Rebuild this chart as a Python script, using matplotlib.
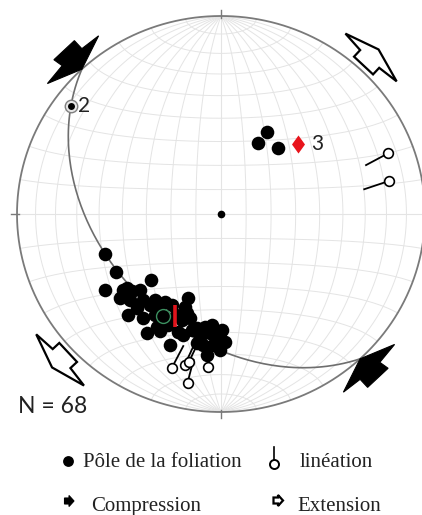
"""
Stéréogramme (canevas équiaire, hémisphère inférieur) : pôles de foliation,
linéations, cercle de la guirlande et axes de compression / extension.
"""

import numpy as np
import matplotlib.pyplot as plt
from matplotlib.patches import Polygon

# =========================================================
# DONNÉES
# =========================================================

# guirlande (plan : direction selon la règle de la main droite, pendage)
GIRDLE_STRIKE = 137.0
GIRDLE_DIP = 42.0

# pôles de la foliation, coordonnées dans le canevas (rayon = 1)
POLE_X = [-0.569, -0.515, -0.569, -0.343, -0.480, -0.436, -0.397, -0.495,
          -0.446, -0.461, -0.348, -0.275, -0.412, -0.382, -0.324, -0.454,
          -0.363, -0.314, -0.299, -0.250, -0.211, -0.160, -0.176, -0.167,
          -0.193, -0.185, -0.144, -0.119, -0.103, -0.119, -0.070, -0.046,
          -0.054, 0.003, -0.005, 0.020, -0.005, -0.038, -0.087, -0.240,
          -0.275, -0.324, -0.283, -0.258, -0.152, -0.078, -0.382, -0.309,
          -0.221, 0.227, 0.183, 0.281]
POLE_Y = [-0.202, -0.293, -0.384, -0.333, -0.384, -0.389, -0.384, -0.424,
          -0.434, -0.374, -0.460, -0.444, -0.475, -0.525, -0.510, -0.510,
          -0.601, -0.571, -0.591, -0.662, -0.596, -0.426, -0.468, -0.500,
          -0.535, -0.611, -0.586, -0.577, -0.620, -0.653, -0.712, -0.561,
          -0.603, -0.586, -0.620, -0.645, -0.687, -0.662, -0.662, -0.460,
          -0.525, -0.434, -0.510, -0.561, -0.525, -0.569, -0.434, -0.485,
          -0.510, 0.416, 0.360, 0.332]

# linéations (position du rond + extrémité de la queue)
LIN_X = [0.820, 0.824, -0.242, -0.178, -0.157, -0.065, -0.164]
LIN_Y = [0.307, 0.167, -0.779, -0.763, -0.746, -0.771, -0.852]
LIN_TAIL_X = [0.711, 0.702, -0.185, -0.137, -0.113, -0.049, -0.135]
LIN_TAIL_Y = [0.247, 0.125, -0.667, -0.672, -0.652, -0.712, -0.737]

# points particuliers (azimut, plongement)
POINT2 = (306.5, 9.5)
POINT3 = (47.0, 47.0)
CENTER_POINT = (0.0, 90.0)

# moyenne (cercle vert) et barre rouge
MEAN_XY = (-0.283, -0.515)
BAR_X = -0.225
BAR_Y = (-0.460, -0.571)

# axes de contrainte (azimut)
COMPRESSION_AZ = [317.0, 137.0]
EXTENSION_AZ = [43.0, 227.0]

N_DATA = 68
LEGEND_LABELS = ["Pôle de la foliation", "linéation", "Compression", "Extension"]

# =========================================================
# MISE EN PAGE (pixels)
# =========================================================
W, H = 422, 515
CX, CY, RX, RY = 221.0, 214.0, 204.0, 198.0

GRID_COLOR = "#e4e4e4"
CIRCLE_COLOR = "#7a7a7a"

# formes des flèches (t tangentiel, r radial vers l'extérieur), en pixels
COMP_SHAPE = [(0, 0), (35, 13), (14, 15), (14, 26), (-14, 26), (-12, 16), (-35, 13)]
EXT_SHAPE = [(0, 27), (35, 16), (13, 14), (13, 5), (-13, 5), (-13, 14), (-35, 16)]
LEG_ARROW = [(-4.5, -3), (0, -3), (0, -5.5), (5, 0), (0, 5.5), (0, 3), (-4.5, 3)]


def px(x, y):
    return (x - CX) / RX, (CY - y) / RY


def project_vec(e, n, u):
    f = np.sqrt(1.0 / (1.0 - u))
    return e * f, n * f


def project_line(trend, plunge):
    t, p = np.radians(trend), np.radians(plunge)
    return project_vec(np.cos(p) * np.sin(t), np.cos(p) * np.cos(t), -np.sin(p))


def great_circle(strike, dip, n=181):
    b = np.linspace(0, np.pi, n)
    s, d = np.radians(strike), np.radians(dip)
    e = np.cos(b) * np.sin(s) + np.sin(b) * np.cos(d) * np.sin(s + np.pi / 2)
    nn = np.cos(b) * np.cos(s) + np.sin(b) * np.cos(d) * np.cos(s + np.pi / 2)
    u = -np.sin(b) * np.sin(d)
    return project_vec(e, nn, u)


def small_circle_ns(alpha, n=181):
    a = np.radians(alpha)
    phi = np.linspace(np.pi, 2 * np.pi, n)
    return project_vec(np.sin(a) * np.cos(phi), np.full_like(phi, np.cos(a)),
                       np.sin(a) * np.sin(phi))


def arrow_poly(az, shape):
    a = np.radians(az)
    pts = []
    for t, r in shape:
        dx = r * np.sin(a) + t * np.cos(a)
        dy = r * np.cos(a) - t * np.sin(a)
        pts.append((np.sin(a) + dx / RX, np.cos(a) + dy / RY))
    return pts


def draw_net(ax):
    for dip in range(10, 90, 10):
        for strike in (0, 180):
            x, y = great_circle(strike, dip)
            ax.plot(x, y, color=GRID_COLOR, lw=0.7, zorder=1)
    for alpha in range(10, 180, 10):
        if alpha == 90:
            continue
        x, y = small_circle_ns(alpha)
        ax.plot(x, y, color=GRID_COLOR, lw=0.7, zorder=1)
    ax.plot([0, 0], [-1, 1], color=GRID_COLOR, lw=0.8, zorder=1)
    ax.plot([-1, 1], [0, 0], color=GRID_COLOR, lw=0.8, zorder=1)

    th = np.linspace(0, 2 * np.pi, 400)
    ax.plot(np.cos(th), np.sin(th), color=CIRCLE_COLOR, lw=1.3, zorder=2)
    for az in (0, 90, 180, 270):
        a = np.radians(az)
        ax.plot([0.99 * np.sin(a), 1.03 * np.sin(a)], [0.99 * np.cos(a), 1.03 * np.cos(a)],
                color=CIRCLE_COLOR, lw=1.0, zorder=2)


def main():
    fig = plt.figure(figsize=(W / 100, H / 100), dpi=100)
    ax = fig.add_axes([0, 0, 1, 1])
    ax.set_xlim(-CX / RX, (W - CX) / RX)
    ax.set_ylim((CY - H) / RY, CY / RY)
    ax.axis("off")

    draw_net(ax)

    gx, gy = great_circle(GIRDLE_STRIKE, GIRDLE_DIP)
    ax.plot(gx, gy, color="#6e6e6e", lw=1.2, zorder=3)

    ax.plot(POLE_X, POLE_Y, "o", color="black", ms=9.8, mew=0, zorder=4)

    cx0, cy0 = project_line(*CENTER_POINT)
    ax.plot(cx0, cy0, "o", color="black", ms=5.5, mew=0, zorder=4)

    # linéations
    for x0, y0, x1, y1 in zip(LIN_X, LIN_Y, LIN_TAIL_X, LIN_TAIL_Y):
        ax.plot([x0, x1], [y0, y1], color="black", lw=1.3, zorder=5)
    ax.plot(LIN_X, LIN_Y, "o", mfc="white", mec="black", mew=1.2, ms=7, zorder=6)

    # moyenne + barre
    ax.plot([BAR_X, BAR_X], BAR_Y, color="#e2141c", lw=2.6, zorder=6, solid_capstyle="butt")
    ax.plot(*MEAN_XY, "o", mfc="none", mec="#3c9160", mew=1.0, ms=10, zorder=6)

    # point 2
    p2x, p2y = project_line(*POINT2)
    ax.plot(p2x, p2y, "o", mfc="#e6e6e6", mec="#808080", mew=1.0, ms=9, zorder=6)
    ax.plot(p2x, p2y, "o", color="black", ms=5, mew=0, zorder=7)
    ax.annotate("2", (p2x, p2y), xytext=(7, 0), textcoords="offset pixels",
                ha="left", va="center", fontsize=15, family="Lato", color="#222222")

    # point 3
    p3x, p3y = project_line(*POINT3)
    diamond = [(0, 1), (0.72, 0), (0, -1), (-0.72, 0), (0, 1)]
    ax.plot(p3x, p3y, marker=diamond, color="#e8141c", ms=13, mew=0, zorder=6)
    ax.annotate("3", (p3x, p3y), xytext=(13, 0), textcoords="offset pixels",
                ha="left", va="center", fontsize=15, family="Lato", color="#222222")

    # flèches
    for az in COMPRESSION_AZ:
        ax.add_patch(Polygon(arrow_poly(az, COMP_SHAPE), closed=True, fc="black",
                             ec="black", lw=0.8, zorder=8))
    for az in EXTENSION_AZ:
        ax.add_patch(Polygon(arrow_poly(az, EXT_SHAPE), closed=True, fc="white",
                             ec="black", lw=1.6, joinstyle="miter", zorder=8))

    # N = 68
    ax.text(*px(18, 413), f"N = {N_DATA}", ha="left", va="baseline",
            fontsize=16.5, family="Lato", color="#222222")

    # légende
    serif = dict(family="Liberation Serif", fontsize=15, color="#222222",
                 ha="left", va="baseline")
    ax.plot(*px(68.5, 461), "o", color="black", ms=7.8, mew=0)
    ax.text(*px(83, 466.5), LEGEND_LABELS[0], **serif)

    ax.plot(*zip(px(274.3, 460), px(274.3, 447)), color="black", lw=1.2)
    ax.plot(*px(274.3, 463.5), "o", mfc="white", mec="black", mew=1.4, ms=6.5)
    ax.text(*px(299.5, 466.5), LEGEND_LABELS[1], **serif)

    ax.add_patch(Polygon([px(69 + dx, 501 + dy) for dx, dy in LEG_ARROW], closed=True,
                         fc="black", ec="black", lw=0.8))
    ax.text(*px(91, 510.5), LEGEND_LABELS[2], **serif)

    ax.add_patch(Polygon([px(278 + dx, 500.5 + dy) for dx, dy in LEG_ARROW], closed=True,
                         fc="white", ec="black", lw=1.6, joinstyle="miter"))
    ax.text(*px(297, 510.5), LEGEND_LABELS[3], **serif)

    fig.savefig("out.png", dpi=100)
    plt.close(fig)


if __name__ == "__main__":
    main()
